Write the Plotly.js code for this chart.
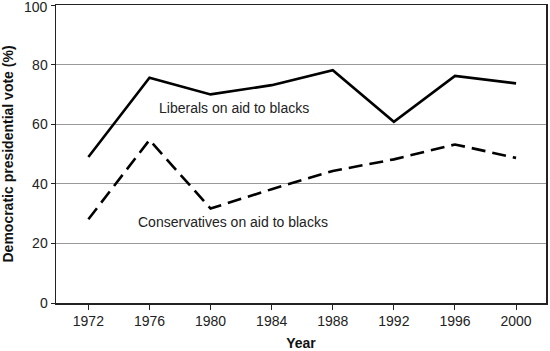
<!DOCTYPE html>
<html>
<head>
<meta charset="utf-8">
<script src="https://cdn.plot.ly/plotly-3.0.1.min.js"></script>
<style>html,body{margin:0;padding:0;background:#fff}#chart{width:550px;height:351px}</style>
</head>
<body>
<div id="chart"></div>
<script>
var years = [1972, 1976, 1980, 1984, 1988, 1992, 1996, 2000];
var liberals = [49.0, 75.6, 70.0, 73.1, 78.1, 60.8, 76.2, 73.7];
var conservatives = [28.1, 54.7, 31.7, 38.2, 44.3, 48.2, 53.2, 48.7];
var yTicks = [0, 20, 40, 60, 80, 100];
var seriesLabels = ["Liberals on aid to blacks", "Conservatives on aid to blacks"];

var traces = [
  {x: years, y: liberals, type: 'scatter', mode: 'lines', name: seriesLabels[0],
   line: {color: '#000', width: 2.6}},
  {x: years, y: conservatives, type: 'scatter', mode: 'lines', name: seriesLabels[1],
   line: {color: '#000', width: 2.6, dash: '14px,7px'}}
];

var topTick = yTicks[yTicks.length - 1];

var layout = {
  width: 550, height: 351,
  margin: {l: 56, r: 4, t: 5, b: 48},
  paper_bgcolor: '#fff', plot_bgcolor: '#fff',
  showlegend: false,
  font: {family: 'Liberation Sans, Arial, sans-serif', size: 14, color: '#222'},
  xaxis: {
    range: [1969.88, 2001.96],
    tickvals: years, ticktext: years.map(String),
    ticks: 'outside', ticklen: 5, tickcolor: '#222', tickwidth: 1,
    showgrid: false, zeroline: false,
    showline: true, linecolor: '#222', linewidth: 1.5, mirror: true,
    title: {text: 'Year', font: {size: 14, color: '#111', family: 'Liberation Sans, Arial, sans-serif', weight: 'bold'}, standoff: 14}
  },
  yaxis: {
    range: [0, 100],
    tickvals: yTicks,
    ticks: 'outside', ticklen: 4, tickcolor: '#222', tickwidth: 1,
    showgrid: true, gridcolor: '#999', gridwidth: 1, zeroline: false,
    showline: true, linecolor: '#222', linewidth: 1.5, mirror: true,
    title: {text: 'Democratic presidential vote (%)', font: {size: 14, color: '#111', family: 'Liberation Sans, Arial, sans-serif', weight: 'bold'}, standoff: 15}
  },
  annotations: [
    {x: 1976.48, y: 65.6, xref: 'x', yref: 'y', text: seriesLabels[0], showarrow: false,
     xanchor: 'left', yanchor: 'middle', font: {size: 14, color: '#222'}},
    {x: 1975.12, y: 27.1, xref: 'x', yref: 'y', text: seriesLabels[1], showarrow: false,
     xanchor: 'left', yanchor: 'middle', font: {size: 14, color: '#222'}},
    {x: 0, y: topTick, xref: 'paper', yref: 'y', text: String(topTick), showarrow: false,
     xanchor: 'right', yanchor: 'middle', xshift: -6, yshift: -2, font: {size: 14, color: '#222'}}
  ]
};

Plotly.newPlot('chart', traces, layout, {staticPlot: true, displayModeBar: false});
</script>
</body>
</html>
